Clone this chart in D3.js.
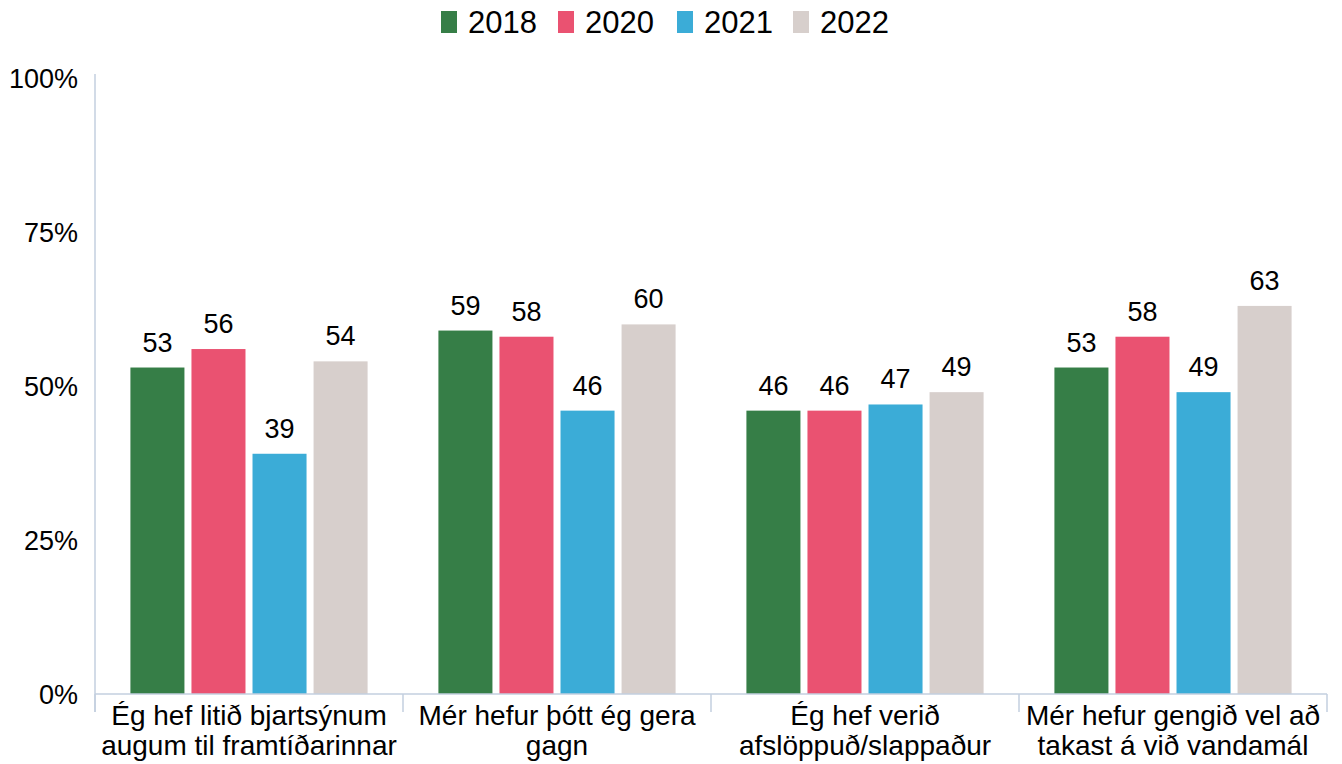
<!DOCTYPE html>
<html>
<head>
<meta charset="utf-8">
<script src="https://cdn.jsdelivr.net/npm/d3@7"></script>
<style>
  body { margin: 0; background: #fff; }
  text { font-family: "Liberation Sans", Arial, sans-serif; fill: #000; }
</style>
</head>
<body>
<script>
// data
const categories = [
  ["Ég hef litið bjartsýnum", "augum til framtíðarinnar"],
  ["Mér hefur þótt ég gera", "gagn"],
  ["Ég hef verið", "afslöppuð/slappaður"],
  ["Mér hefur gengið vel að", "takast á við vandamál"]
];
const years = ["2018", "2020", "2021", "2022"];
const values2018 = [53, 59, 46, 53];
const values2020 = [56, 58, 46, 58];
const values2021 = [39, 46, 47, 49];
const values2022 = [54, 60, 49, 63];
const yTicks = [0, 25, 50, 75, 100];

const colors = ["#367e47", "#ea5271", "#3bacd7", "#d7cfcc"];
const series = [values2018, values2020, values2021, values2022];

const width = 1342, height = 764;
const plotLeft = 95, plotRight = 1327, plotTop = 78, plotBottom = 694;

const svg = d3.select('body').append('svg')
  .attr('width', width)
  .attr('height', height);

const x0 = d3.scaleBand()
  .domain(d3.range(categories.length))
  .range([plotLeft, plotRight]);

const x1 = d3.scaleBand()
  .domain(years)
  .range([0, x0.bandwidth()])
  .paddingInner(0.115)
  .paddingOuter(0.58);

const y = d3.scaleLinear()
  .domain([0, 100])
  .range([plotBottom, plotTop]);

const color = d3.scaleOrdinal().domain(years).range(colors);

// y axis
const yAxis = svg.append('g')
  .attr('transform', `translate(${plotLeft},0)`)
  .call(d3.axisLeft(y).tickValues(yTicks).tickSize(0).tickPadding(17).tickFormat(d => d + '%'));
yAxis.select('.domain').remove();
yAxis.attr('font-family', null);
yAxis.selectAll('text').style('font-size', '27px').attr('dy', '0.36em');
svg.append('line')
  .attr('x1', plotLeft).attr('x2', plotLeft)
  .attr('y1', plotTop - 4).attr('y2', plotBottom + 18)
  .attr('stroke', '#c3cfdf').attr('stroke-width', 1.5);

// bars
const groups = svg.append('g').selectAll('g')
  .data(categories.map((c, i) => years.map((yr, j) => ({ i, yr, v: series[j][i] }))))
  .join('g')
  .attr('transform', (d, i) => `translate(${x0(i)},0)`);

groups.selectAll('rect')
  .data(d => d)
  .join('rect')
  .attr('x', d => x1(d.yr))
  .attr('y', d => y(d.v))
  .attr('width', x1.bandwidth())
  .attr('height', d => y(0) - y(d.v))
  .attr('fill', d => color(d.yr));

groups.selectAll('text.val')
  .data(d => d)
  .join('text')
  .attr('class', 'val')
  .attr('x', d => x1(d.yr) + x1.bandwidth() / 2)
  .attr('y', d => y(d.v) - 16)
  .attr('text-anchor', 'middle')
  .style('font-size', '27px')
  .text(d => d.v);

// x axis
svg.append('line')
  .attr('x1', plotLeft).attr('x2', plotRight)
  .attr('y1', plotBottom).attr('y2', plotBottom)
  .attr('stroke', '#c3cfdf').attr('stroke-width', 1.5);
svg.append('g').selectAll('line')
  .data(d3.range(categories.length + 1))
  .join('line')
  .attr('x1', i => i < categories.length ? x0(i) : plotRight)
  .attr('x2', i => i < categories.length ? x0(i) : plotRight)
  .attr('y1', plotBottom).attr('y2', plotBottom + 18)
  .attr('stroke', '#c3cfdf').attr('stroke-width', 1.5);

const labels = svg.append('g').selectAll('text')
  .data(categories)
  .join('text')
  .attr('text-anchor', 'middle')
  .style('font-size', '28px')
  .attr('transform', (d, i) => `translate(${x0(i) + x0.bandwidth() / 2},0)`);
labels.selectAll('tspan')
  .data(d => d)
  .join('tspan')
  .attr('x', 0)
  .attr('y', (d, k) => 725 + k * 30)
  .text(d => d);

// legend
const legendX = [441, 558, 677, 793];
const legend = svg.append('g').selectAll('g')
  .data(years)
  .join('g')
  .attr('transform', (d, i) => `translate(${legendX[i]},0)`);
legend.append('rect')
  .attr('x', 0).attr('y', 11)
  .attr('width', 16).attr('height', 22)
  .attr('fill', d => color(d));
legend.append('text')
  .attr('x', 27).attr('y', 33)
  .style('font-size', '31px')
  .text(d => d);
</script>
</body>
</html>
